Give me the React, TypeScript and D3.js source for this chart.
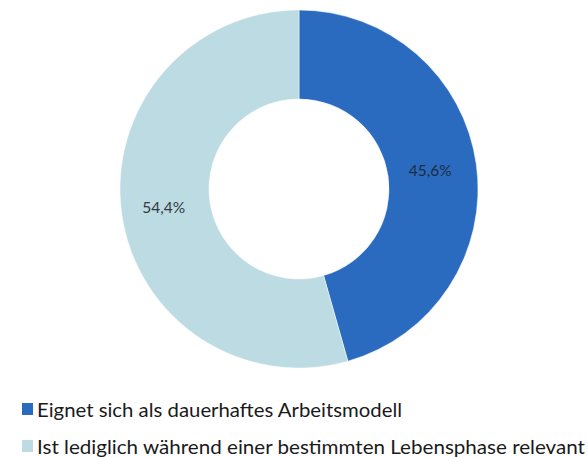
import React from "react";
import * as d3 from "d3";

const categories = [
  "Eignet sich als dauerhaftes Arbeitsmodell",
  "Ist lediglich während einer bestimmten Lebensphase relevant",
];
const values = [45.6, 54.4];
const valueLabels = ["45,6%", "54,4%"];
const colors = ["#2a6bc0", "#bcdbe2"];
const labelColors = ["#1e2b3e", "#333a40"];

const W = 587;
const H = 457;
const cx = 299;
const cy = 189;
const outerR = 179;
const innerR = 90;

export default function App() {
  const pie = d3.pie<number>().sort(null).value((d) => d);
  const arcs = pie(values);
  const arcGen = d3.arc<d3.PieArcDatum<number>>().innerRadius(innerR).outerRadius(outerR);
  const legendWidths = [365, 548];
  const labelWidths = [48, 40];

  return (
    <svg
      width={W}
      height={H}
      style={{ position: "absolute", left: 0, top: 0, background: "#fff" }}
      fontFamily="Lato, 'Open Sans', sans-serif"
    >
      <g transform={`translate(${cx},${cy})`}>
        {arcs.map((a, i) => (
          <path key={i} d={arcGen(a) || ""} fill={colors[i]} stroke="#fff" strokeWidth={0.5} />
        ))}
        {arcs.map((a, i) => {
          const [x, y] = arcGen.centroid(a);
          return (
            <text
              key={"l" + i}
              x={x - 2}
              y={y + 2}
              textAnchor="middle"
              dominantBaseline="middle"
              fontSize={15.5}
              fill={labelColors[i]}
            >
              {valueLabels[i]}
            </text>
          );
        })}
      </g>
      {categories.map((c, i) => {
        const y = 409 + i * 37;
        return (
          <g key={"lg" + i}>
            <rect x={22} y={y - 6} width={11} height={12} fill={colors[i]} />
            <text
              x={37}
              y={y + 8}
              fontSize={20}
              fill="#1a1a1a"
              textLength={legendWidths[i]}
              lengthAdjust="spacingAndGlyphs"
            >
              {c}
            </text>
          </g>
        );
      })}
    </svg>
  );
}
